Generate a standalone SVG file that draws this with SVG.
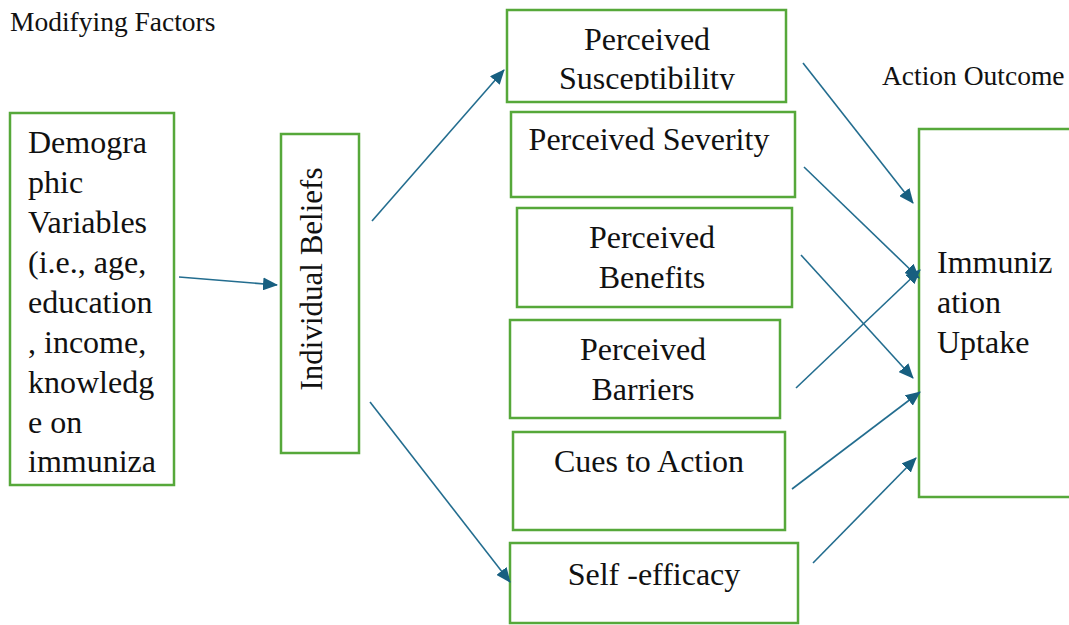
<svg xmlns="http://www.w3.org/2000/svg" width="1069" height="625" viewBox="0 0 1069 625">
<style>
.box{fill:#fff;stroke:#56a83a;stroke-width:2.5}
.t{font-family:"Liberation Serif","Times New Roman",serif;font-size:32px;fill:#111}
.h{font-family:"Liberation Serif","Times New Roman",serif;font-size:27.5px;fill:#111}
.c{text-anchor:middle}
.conn line{stroke:#236d8f;stroke-width:1.6;marker-end:url(#ah)}
</style>
<defs>
<marker id="ah" viewBox="0 0 15 13" refX="14" refY="6.5" markerWidth="15" markerHeight="13" markerUnits="userSpaceOnUse" orient="auto">
<path d="M0,0 L15,6.5 L0,13 Z" fill="#175f80"/>
</marker>
<clipPath id="clipSus"><rect x="507" y="10" width="279" height="80"/></clipPath>
</defs>
<rect width="1069" height="625" fill="#fff"/>
<text class="h" x="10" y="31">Modifying Factors</text>
<text class="h" x="882" y="85">Action Outcome</text>

<g id="demographic">
<rect class="box" x="10" y="113" width="164" height="372"/>
<text class="t" x="28" y="153">Demogra</text>
<text class="t" x="28" y="193">phic</text>
<text class="t" x="28" y="233">Variables</text>
<text class="t" x="28" y="273">(i.e., age,</text>
<text class="t" x="28" y="313">education</text>
<text class="t" x="28" y="353">, income,</text>
<text class="t" x="28" y="393">knowledg</text>
<text class="t" x="28" y="433">e on</text>
<text class="t" x="28" y="472">immuniza</text>
</g>

<g id="beliefs">
<rect class="box" x="281" y="134" width="78" height="319"/>
<text class="t c" style="font-size:31px" transform="translate(322,279) rotate(-90)">Individual Beliefs</text>
</g>

<g id="susceptibility">
<rect class="box" x="507" y="10" width="279" height="92"/>
<g clip-path="url(#clipSus)">
<text class="t c" x="647" y="50">Perceived</text>
<text class="t c" x="647" y="89">Susceptibility</text>
</g>
</g>

<g id="severity">
<rect class="box" x="511" y="112" width="284" height="85"/>
<text class="t c" x="649" y="150">Perceived Severity</text>
</g>

<g id="benefits">
<rect class="box" x="517" y="208" width="275" height="99"/>
<text class="t c" x="652" y="248">Perceived</text>
<text class="t c" x="652" y="288">Benefits</text>
</g>

<g id="barriers">
<rect class="box" x="510" y="320" width="270" height="98"/>
<text class="t c" x="643" y="360">Perceived</text>
<text class="t c" x="643" y="400">Barriers</text>
</g>

<g id="cues">
<rect class="box" x="513" y="432" width="272" height="98"/>
<text class="t c" x="649" y="472">Cues to Action</text>
</g>

<g id="selfefficacy">
<rect class="box" x="510" y="543" width="288" height="80"/>
<text class="t c" x="654" y="585">Self -efficacy</text>
</g>

<g id="uptake">
<rect class="box" x="919" y="129" width="160" height="368"/>
<text class="t" x="937" y="273">Immuniz</text>
<text class="t" x="937" y="313">ation</text>
<text class="t" x="937" y="353">Uptake</text>
</g>

<g id="connectors" class="conn">
<line x1="179" y1="277" x2="277" y2="285"/>
<line x1="372" y1="221" x2="504" y2="70"/>
<line x1="370" y1="402" x2="510" y2="582"/>
<line x1="803" y1="63" x2="913" y2="203"/>
<line x1="804" y1="167" x2="919" y2="278"/>
<line x1="801" y1="255" x2="913" y2="378"/>
<line x1="796" y1="388" x2="920" y2="270"/>
<line x1="792" y1="489" x2="920" y2="392"/>
<line x1="813" y1="563" x2="916" y2="458"/>
</g>
</svg>
